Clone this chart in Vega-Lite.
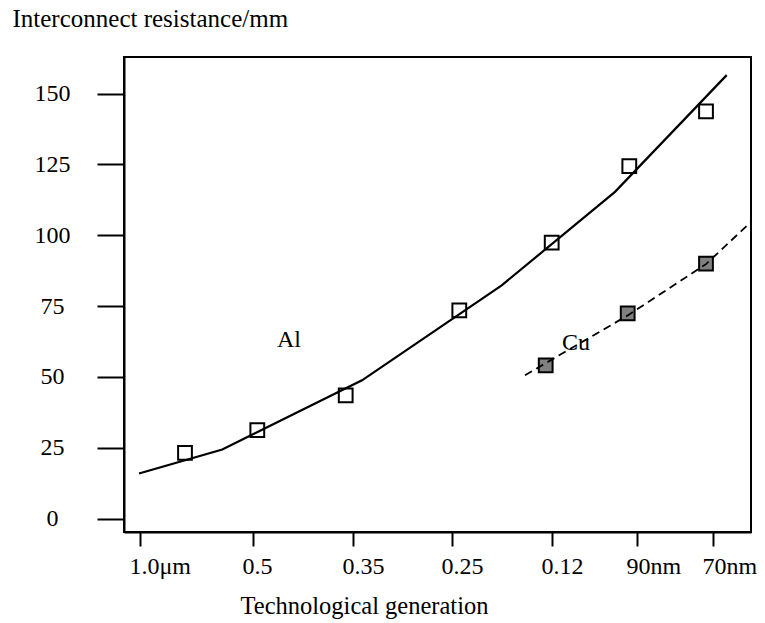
{
  "$schema": "https://vega.github.io/schema/vega-lite/v6.json",
  "autosize": {"type": "none"},
  "padding": {"left": 124, "top": 57, "right": 14, "bottom": 91},
  "width": 627,
  "height": 475,
  "background": "white",
  "config": {
    "font": "Liberation Serif",
    "view": {"stroke": "black", "strokeWidth": 2},
    "axis": {"grid": false}
  },
  "datasets": {
    "al_curve": [
      {"gen": 0.15, "r": 15.9},
      {"gen": 0.983, "r": 24.4},
      {"gen": 2.38, "r": 48.8},
      {"gen": 3.777, "r": 82.3},
      {"gen": 4.91, "r": 115.3},
      {"gen": 6.027, "r": 156.5}
    ],
    "cu_curve": [
      {"gen": 4.01, "r": 50.6},
      {"gen": 5.037, "r": 71.7},
      {"gen": 5.82, "r": 89.8},
      {"gen": 6.27, "r": 104.7}
    ],
    "al_pts": [
      {"gen": 0.61, "r": 23.2},
      {"gen": 1.333, "r": 31.2},
      {"gen": 2.217, "r": 43.5},
      {"gen": 3.353, "r": 73.5},
      {"gen": 4.277, "r": 97.4},
      {"gen": 5.053, "r": 124.4},
      {"gen": 5.82, "r": 143.7}
    ],
    "cu_pts": [
      {"gen": 4.217, "r": 54.1},
      {"gen": 5.037, "r": 72.4},
      {"gen": 5.82, "r": 90.0}
    ],
    "labels": [
      {"gen": 1.65, "r": 62.9, "label": "Al"},
      {"gen": 4.52, "r": 61.9, "label": "Cu"}
    ]
  },
  "encoding": {
    "x": {
      "field": "gen",
      "type": "quantitative",
      "scale": {"domain": [0, 6.27], "nice": false, "zero": false},
      "axis": {
        "values": [0.16, 1.29, 2.29, 3.28, 4.28, 5.13, 5.89],
        "labelExpr": "datum.value < 0.5 ? '1.0μm' : datum.value < 1.8 ? '0.5' : datum.value < 2.8 ? '0.35' : datum.value < 3.8 ? '0.25' : datum.value < 4.7 ? '0.12' : datum.value < 5.5 ? '90nm' : '70nm'",
        "title": "Technological generation",
        "titleFont": "Liberation Serif",
        "titleFontSize": 24.5,
        "titleFontWeight": "normal",
        "titleColor": "black",
        "titleX": 240,
        "titleY": 81,
        "titleAlign": "center",
        "titleBaseline": "alphabetic",
        "domainColor": "black",
        "domainWidth": 2,
        "tickColor": "black",
        "tickWidth": 2,
        "tickSize": 14,
        "labelFont": "Liberation Serif",
        "labelFontSize": 24,
        "labelColor": "black",
        "labelAlign": "left",
        "labelOffset": -11,
        "labelBaseline": "top",
        "labelPadding": 8,
        "labelFlush": false,
        "labelOverlap": false
      }
    },
    "y": {
      "field": "r",
      "type": "quantitative",
      "scale": {"domain": [-4.73, 162.9], "nice": false, "zero": false},
      "axis": {
        "values": [0, 25, 50, 75, 100, 125, 150],
        "title": "Interconnect resistance/mm",
        "titleFont": "Liberation Serif",
        "titleFontSize": 25,
        "titleFontWeight": "normal",
        "titleColor": "black",
        "titleAngle": 0,
        "titleAlign": "left",
        "titleBaseline": "alphabetic",
        "titleX": -112,
        "titleY": -31,
        "domainColor": "black",
        "domainWidth": 2,
        "tickColor": "black",
        "tickWidth": 2,
        "tickSize": 27,
        "labelFont": "Liberation Serif",
        "labelFontSize": 24,
        "labelColor": "black",
        "labelAlign": "center",
        "labelBaseline": "middle",
        "labelPadding": 45,
        "labelFlush": false,
        "labelOverlap": false
      }
    }
  },
  "layer": [
    {
      "data": {"name": "al_curve"},
      "mark": {"type": "line", "color": "black", "strokeWidth": 2.2, "clip": true}
    },
    {
      "data": {"name": "al_pts"},
      "mark": {"type": "point", "shape": "square", "filled": false, "stroke": "black", "strokeWidth": 2, "size": 190, "opacity": 1}
    },
    {
      "data": {"name": "cu_pts"},
      "mark": {"type": "point", "shape": "square", "filled": true, "fill": "#808080", "stroke": "black", "strokeWidth": 2, "size": 190, "opacity": 1}
    },
    {
      "data": {"name": "cu_curve"},
      "mark": {"type": "line", "color": "black", "strokeWidth": 1.8, "strokeDash": [8, 5], "clip": true}
    },
    {
      "data": {"name": "labels"},
      "mark": {"type": "text", "font": "Liberation Serif", "fontSize": 24, "color": "black", "align": "center", "baseline": "middle"},
      "encoding": {"text": {"field": "label", "type": "nominal"}}
    }
  ]
}
